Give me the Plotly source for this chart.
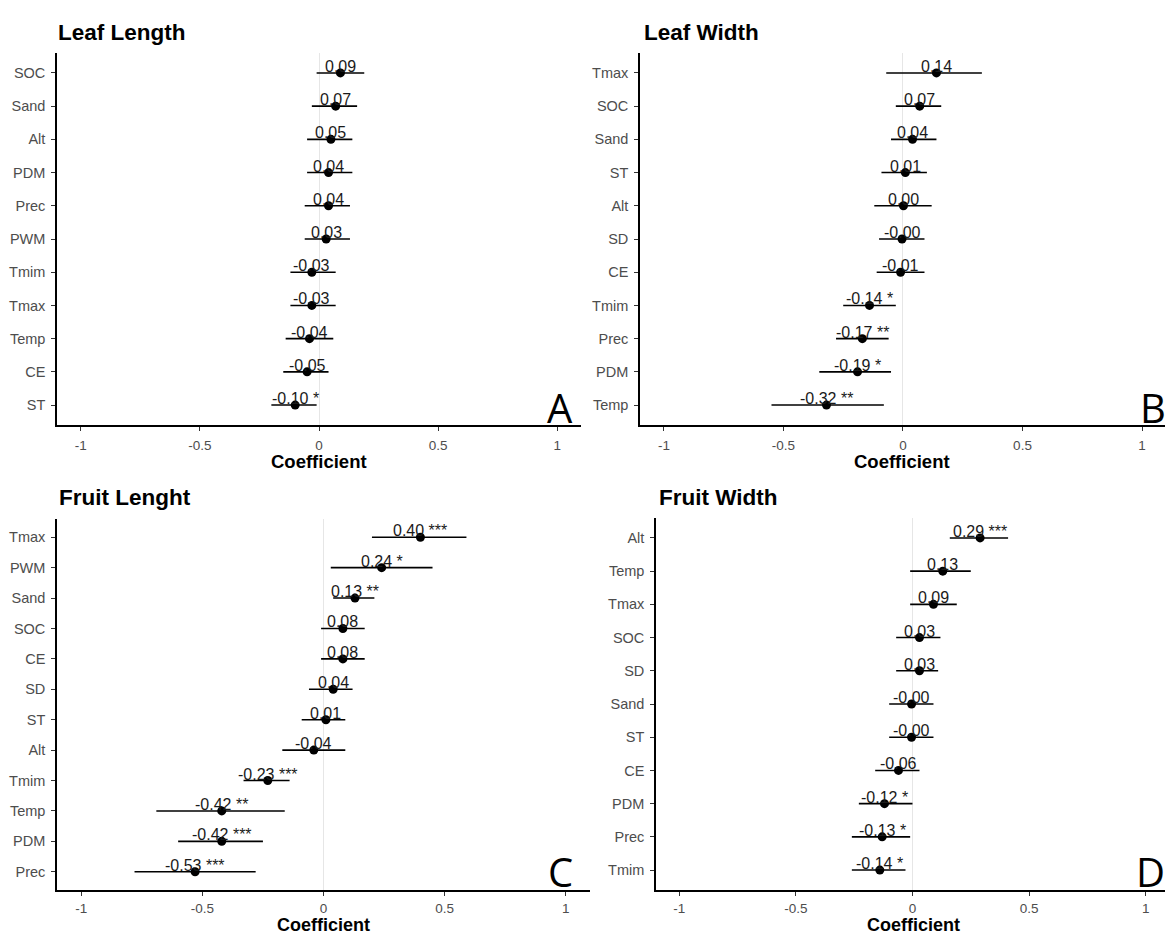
import plotly.graph_objects as go

# ---------------- data ----------------
A_vars = ["SOC", "Sand", "Alt", "PDM", "Prec", "PWM", "Tmim", "Tmax", "Temp", "CE", "ST"]
A_coef = [0.09, 0.07, 0.05, 0.04, 0.04, 0.03, -0.03, -0.03, -0.04, -0.05, -0.10]
A_low = [-0.01, -0.03, -0.05, -0.05, -0.06, -0.06, -0.12, -0.12, -0.14, -0.15, -0.20]
A_high = [0.19, 0.16, 0.14, 0.14, 0.13, 0.13, 0.07, 0.07, 0.06, 0.04, -0.01]
A_sig = ["", "", "", "", "", "", "", "", "", "", "*"]

B_vars = ["Tmax", "SOC", "Sand", "ST", "Alt", "SD", "CE", "Tmim", "Prec", "PDM", "Temp"]
B_coef = [0.14, 0.07, 0.04, 0.01, 0.002, -0.004, -0.01, -0.14, -0.17, -0.19, -0.32]
B_low = [-0.07, -0.03, -0.05, -0.09, -0.12, -0.10, -0.11, -0.25, -0.28, -0.35, -0.55]
B_high = [0.33, 0.16, 0.14, 0.10, 0.12, 0.09, 0.09, -0.03, -0.06, -0.05, -0.08]
B_sig = ["", "", "", "", "", "", "", "*", "**", "*", "**"]

C_vars = ["Tmax", "PWM", "Sand", "SOC", "CE", "SD", "ST", "Alt", "Tmim", "Temp", "PDM", "Prec"]
C_coef = [0.40, 0.24, 0.13, 0.08, 0.08, 0.04, 0.01, -0.04, -0.23, -0.42, -0.42, -0.53]
C_low = [0.20, 0.03, 0.04, -0.01, -0.01, -0.06, -0.09, -0.17, -0.33, -0.69, -0.60, -0.78]
C_high = [0.59, 0.45, 0.21, 0.17, 0.17, 0.12, 0.09, 0.09, -0.14, -0.16, -0.25, -0.28]
C_sig = ["***", "*", "**", "", "", "", "", "", "***", "**", "***", "***"]

D_vars = ["Alt", "Temp", "Tmax", "SOC", "SD", "Sand", "ST", "CE", "PDM", "Prec", "Tmim"]
D_coef = [0.29, 0.13, 0.09, 0.03, 0.03, -0.004, -0.004, -0.06, -0.12, -0.13, -0.14]
D_low = [0.16, -0.01, -0.01, -0.07, -0.07, -0.10, -0.10, -0.16, -0.23, -0.26, -0.26]
D_high = [0.41, 0.25, 0.19, 0.12, 0.11, 0.09, 0.09, 0.03, 0.00, -0.01, -0.03]
D_sig = ["***", "", "", "", "", "", "", "", "*", "*", "*"]

titles = ["Leaf Length", "Leaf Width", "Fruit Lenght", "Fruit Width"]
letters = ["A", "B", "C", "D"]
x_ticks = [-1, -0.5, 0, 0.5, 1]
x_tick_text = ["-1", "-0.5", "0", "0.5", "1"]

panels = [
    (A_vars, A_coef, A_low, A_high, A_sig),
    (B_vars, B_coef, B_low, B_high, B_sig),
    (C_vars, C_coef, C_low, C_high, C_sig),
    (D_vars, D_coef, D_low, D_high, D_sig),
]

# ---------------- layout geometry (pixels) ----------------
W, H = 1165, 934


def px(x):
    return x / W


def py(y):
    return 1 - y / H


# (left, right, top, bottom) of each plotting area, and the x range shown
boxes = [
    (57, 581, 53, 425),
    (640, 1165, 53, 425),
    (57, 590, 519, 890),
    (656, 1165, 518, 890),
]
x_ranges = [[-1.1, 1.1], [-1.1, 1.096], [-1.1, 1.1], [-1.1, 1.083]]
tick_standoff = [3, 3, 1, 1]
title_pos = [(56, 32), (642, 32), (57, 497), (657, 497)]
xlab_pos = [(319, 462), (902, 462), (323, 925), (913, 925)]
xlab_size = [18.5, 18.5, 18, 18]
letter_pos = [(560, 408), (1153, 408), (560, 871), (1150, 871)]

FONT = "Liberation Sans, Arial, sans-serif"

fig = go.Figure()
layout = dict(
    width=W, height=H,
    margin=dict(l=0, r=0, t=0, b=0),
    paper_bgcolor="white", plot_bgcolor="white",
    showlegend=False,
    annotations=[],
)

for i, (vars_, coef, low, high, sig) in enumerate(panels):
    k = "" if i == 0 else str(i + 1)
    xa, ya = "x" + k, "y" + k
    labels = [f"{c:.2f}" + (" " + s if s else "") for c, s in zip(coef, sig)]
    fig.add_trace(go.Scatter(
        x=coef, y=vars_, mode="markers",
        marker=dict(color="black", size=9),
        error_x=dict(type="data", symmetric=False,
                     array=[h - c for h, c in zip(high, coef)],
                     arrayminus=[c - l for c, l in zip(coef, low)],
                     width=0, thickness=1.6, color="black"),
        xaxis=xa, yaxis=ya, hoverinfo="skip",
    ))
    for c, v, lab in zip(coef, vars_, labels):
        layout["annotations"].append(dict(
            text=lab, x=c, y=v, xref=xa, yref=ya,
            xanchor="center", yanchor="bottom", yshift=-4,
            showarrow=False,
            font=dict(family=FONT, size=16, color="#1a1a1a")))
    l, r, t, b = boxes[i]
    n = len(vars_)
    layout["xaxis" + k] = dict(
        domain=[px(l), px(r)], anchor=ya, range=x_ranges[i],
        tickvals=x_ticks, ticktext=x_tick_text,
        showgrid=False, zeroline=True, zerolinecolor="#E6E6E6", zerolinewidth=1,
        showline=True, linecolor="black", linewidth=1.5,
        ticks="outside", ticklen=4, tickcolor="#333333", tickwidth=1,
        ticklabelstandoff=tick_standoff[i],
        tickfont=dict(family=FONT, size=13.5, color="#4D4D4D"),
    )
    layout["yaxis" + k] = dict(
        domain=[py(b), py(t)], anchor=xa,
        type="category", categoryorder="array", categoryarray=vars_[::-1],
        range=[-0.6, n - 0.4],
        showgrid=False, zeroline=False,
        showline=True, linecolor="black", linewidth=1.5,
        ticks="outside", ticklen=4, tickcolor="#333333", tickwidth=1,
        ticklabelstandoff=3,
        tickfont=dict(family=FONT, size=14.5, color="#4D4D4D"),
    )
    tx, ty = title_pos[i]
    layout["annotations"].append(dict(
        text="<b>" + titles[i] + "</b>", x=px(tx), y=py(ty),
        xref="paper", yref="paper", xanchor="left", yanchor="middle",
        showarrow=False, font=dict(family=FONT, size=22.5, color="black")))
    cx, cy = xlab_pos[i]
    layout["annotations"].append(dict(
        text="<b>Coefficient</b>", x=px(cx), y=py(cy),
        xref="paper", yref="paper", xanchor="center", yanchor="middle",
        borderpad=0,
        showarrow=False, font=dict(family=FONT, size=xlab_size[i], color="black")))
    lx, ly = letter_pos[i]
    layout["annotations"].append(dict(
        text=letters[i], x=px(lx), y=py(ly),
        xref="paper", yref="paper", xanchor="center", yanchor="middle",
        showarrow=False, font=dict(family="Open Sans, Noto Sans, sans-serif", size=40, color="black")))

fig.update_layout(**layout)
fig.write_html("out.html", config={"displayModeBar": False},
               post_script="document.body.style.margin='0';")
